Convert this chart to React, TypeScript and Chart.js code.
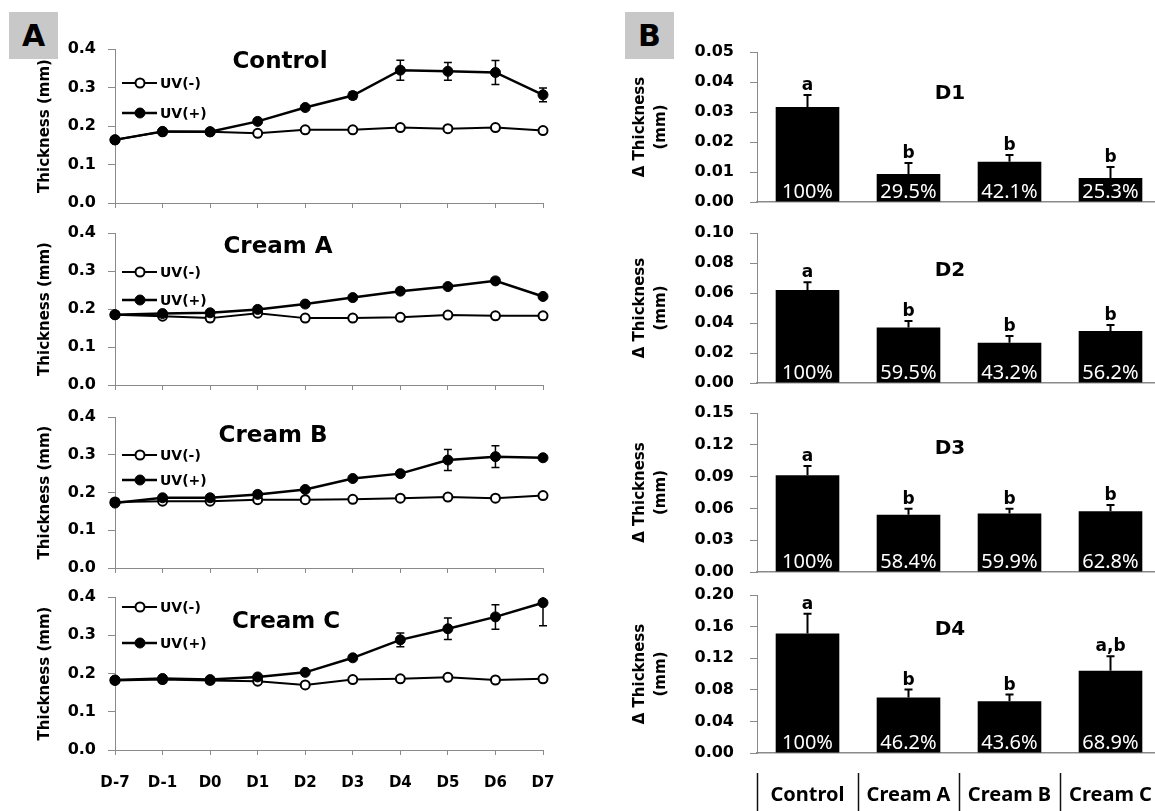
import React, { useEffect, useRef } from "react";
import { Chart, registerables } from "chart.js";

Chart.register(...registerables);

// ---------------- data ----------------
const days = ["D-7", "D-1", "D0", "D1", "D2", "D3", "D4", "D5", "D6", "D7"];
const uvLabels = ["UV(-)", "UV(+)"];
const thicknessTicks = [0, 0.1, 0.2, 0.3, 0.4];
const lineTitles = ["Control", "Cream A", "Cream B", "Cream C"];

const controlUvMinus = [0.164, 0.185, 0.185, 0.181, 0.19, 0.19, 0.196, 0.193, 0.196, 0.188];
const controlUvMinusErr = [0.003, 0.003, 0.003, 0.003, 0.003, 0.003, 0.003, 0.003, 0.003, 0.003];
const controlUvPlus = [0.164, 0.186, 0.185, 0.212, 0.248, 0.279, 0.345, 0.342, 0.339, 0.281];
const controlUvPlusErr = [0.003, 0.004, 0.004, 0.004, 0.005, 0.009, 0.026, 0.023, 0.031, 0.018];

const creamAUvMinus = [0.185, 0.181, 0.176, 0.189, 0.176, 0.176, 0.178, 0.184, 0.182, 0.182];
const creamAUvMinusErr = [0.003, 0.003, 0.003, 0.003, 0.003, 0.003, 0.003, 0.003, 0.003, 0.003];
const creamAUvPlus = [0.185, 0.188, 0.19, 0.199, 0.213, 0.23, 0.247, 0.259, 0.274, 0.233];
const creamAUvPlusErr = [0.003, 0.004, 0.004, 0.004, 0.004, 0.004, 0.004, 0.005, 0.006, 0.006];

const creamBUvMinus = [0.175, 0.177, 0.177, 0.181, 0.181, 0.182, 0.185, 0.188, 0.185, 0.192];
const creamBUvMinusErr = [0.003, 0.003, 0.003, 0.003, 0.003, 0.003, 0.003, 0.003, 0.003, 0.003];
const creamBUvPlus = [0.172, 0.186, 0.186, 0.195, 0.208, 0.237, 0.25, 0.286, 0.295, 0.292];
const creamBUvPlusErr = [0.004, 0.004, 0.004, 0.004, 0.004, 0.005, 0.005, 0.028, 0.029, 0.005];

const creamCUvMinus = [0.182, 0.184, 0.182, 0.18, 0.17, 0.184, 0.186, 0.19, 0.183, 0.186];
const creamCUvMinusErr = [0.003, 0.003, 0.003, 0.003, 0.003, 0.003, 0.003, 0.003, 0.003, 0.003];
const creamCUvPlus = [0.183, 0.187, 0.184, 0.191, 0.203, 0.241, 0.288, 0.317, 0.348, 0.385];
const creamCUvPlusErr = [0.003, 0.004, 0.004, 0.004, 0.004, 0.005, 0.018, 0.028, 0.032, 0.06];

const groups = ["Control", "Cream A", "Cream B", "Cream C"];
const barTitles = ["D1", "D2", "D3", "D4"];
const deltaAxisTitle = ["\u0394 Thickness", "(mm)"];

const d1Delta = [0.0317, 0.0093, 0.0134, 0.008];
const d1Err = [0.004, 0.0037, 0.0023, 0.0037];
const d1Percent = ["100%", "29.5%", "42.1%", "25.3%"];
const d1Letters = ["a", "b", "b", "b"];
const d1Ticks = [0, 0.01, 0.02, 0.03, 0.04, 0.05];

const d2Delta = [0.062, 0.037, 0.0268, 0.0346];
const d2Err = [0.0052, 0.0043, 0.0045, 0.004];
const d2Percent = ["100%", "59.5%", "43.2%", "56.2%"];
const d2Letters = ["a", "b", "b", "b"];
const d2Ticks = [0, 0.02, 0.04, 0.06, 0.08, 0.1];

const d3Delta = [0.0913, 0.054, 0.0553, 0.0572];
const d3Err = [0.0088, 0.0057, 0.0044, 0.006];
const d3Percent = ["100%", "58.4%", "59.9%", "62.8%"];
const d3Letters = ["a", "b", "b", "b"];
const d3Ticks = [0, 0.03, 0.06, 0.09, 0.12, 0.15];

const d4Delta = [0.1514, 0.0702, 0.0655, 0.104];
const d4Err = [0.025, 0.0101, 0.0085, 0.0186];
const d4Percent = ["100%", "46.2%", "43.6%", "68.9%"];
const d4Letters = ["a", "b", "b", "a,b"];
const d4Ticks = [0, 0.04, 0.08, 0.12, 0.16, 0.2];

const lineSeries = [
  { minus: controlUvMinus, minusErr: controlUvMinusErr, plus: controlUvPlus, plusErr: controlUvPlusErr },
  { minus: creamAUvMinus, minusErr: creamAUvMinusErr, plus: creamAUvPlus, plusErr: creamAUvPlusErr },
  { minus: creamBUvMinus, minusErr: creamBUvMinusErr, plus: creamBUvPlus, plusErr: creamBUvPlusErr },
  { minus: creamCUvMinus, minusErr: creamCUvMinusErr, plus: creamCUvPlus, plusErr: creamCUvPlusErr },
];
const barSeries = [
  { v: d1Delta, e: d1Err, pct: d1Percent, let: d1Letters, ticks: d1Ticks },
  { v: d2Delta, e: d2Err, pct: d2Percent, let: d2Letters, ticks: d2Ticks },
  { v: d3Delta, e: d3Err, pct: d3Percent, let: d3Letters, ticks: d3Ticks },
  { v: d4Delta, e: d4Err, pct: d4Percent, let: d4Letters, ticks: d4Ticks },
];

// ---------------- layout / style ----------------
const FONT = "'DejaVu Sans', sans-serif";
const PCT_FONT = "'Noto Sans', sans-serif";
const GRAY = "#8a8a8a";
const PAD_TOP = 15;

const lineLayout = [
  { top: 49, bottom: 203, titleX: 280, titleY: 62, legendY: [83, 113] },
  { top: 233, bottom: 385, titleX: 278, titleY: 247, legendY: [272, 300] },
  { top: 417, bottom: 568, titleX: 273, titleY: 436, legendY: [455, 480] },
  { top: 597, bottom: 750, titleX: 286, titleY: 622, legendY: [607, 643] },
];
const LINE_LEFT = 115;
const LINE_RIGHT = 543;
const LINE_W = 560;

const barLayout = [
  { top: 52, bottom: 202, titleY: 94 },
  { top: 233, bottom: 383, titleY: 271 },
  { top: 413, bottom: 572, titleY: 449 },
  { top: 595, bottom: 753, titleY: 630 },
];
const BAR_CANVAS_LEFT = 600;
const BAR_AXIS = 757;
const BAR_W = 561;
const BAR_TITLE_X = 950;
const TABLE_TOP = 773;

function lineGeom(i: number) {
  const L = lineLayout[i];
  const xh = i === 3 ? 811 - L.bottom : 10;
  const top = L.top - PAD_TOP;
  const height = PAD_TOP + (L.bottom - L.top) + xh;
  return { left: 0, top, width: LINE_W, height, xh };
}
function barGeom(i: number) {
  const L = barLayout[i];
  const xh = i === 3 ? 811 - L.bottom : 8;
  const top = L.top - PAD_TOP;
  const height = PAD_TOP + (L.bottom - L.top) + xh;
  return { left: BAR_CANVAS_LEFT, top, width: BAR_W, height, xh };
}

function fixX(h: number) {
  return (s: any) => {
    s.height = h;
    s.paddingLeft = 0;
    s.paddingRight = 0;
    s.paddingTop = 0;
    s.paddingBottom = 0;
  };
}
function fixY(w: number) {
  return (s: any) => {
    s.width = w;
    s.paddingTop = 0;
    s.paddingBottom = 0;
    s.paddingLeft = 0;
    s.paddingRight = 0;
  };
}

function lineConfig(i: number): any {
  const S = lineSeries[i];
  const L = lineLayout[i];
  const g = lineGeom(i);
  const extras = {
    id: "lineExtras" + i,
    beforeDatasetsDraw(chart: any) {
      const { ctx, chartArea } = chart;
      const y = chart.scales.y;
      ctx.save();
      ctx.beginPath();
      ctx.rect(chartArea.left - 10, chartArea.top, chartArea.right - chartArea.left + 20, chartArea.bottom - chartArea.top);
      ctx.clip();
      ctx.strokeStyle = "#000";
      ctx.lineWidth = 1.5;
      chart.data.datasets.forEach((ds: any, d: number) => {
        const meta = chart.getDatasetMeta(d);
        meta.data.forEach((pt: any, k: number) => {
          const v = ds.data[k];
          const e = ds.errors[k];
          const y1 = y.getPixelForValue(v + e);
          const y2 = y.getPixelForValue(v - e);
          ctx.beginPath();
          ctx.moveTo(pt.x, y1);
          ctx.lineTo(pt.x, y2);
          ctx.moveTo(pt.x - 4, y1);
          ctx.lineTo(pt.x + 4, y1);
          ctx.moveTo(pt.x - 4, y2);
          ctx.lineTo(pt.x + 4, y2);
          ctx.stroke();
        });
      });
      ctx.restore();
    },
    afterDatasetsDraw(chart: any) {
      const { ctx } = chart;
      ctx.save();
      ctx.fillStyle = "#000";
      ctx.font = `bold 23px ${FONT}`;
      ctx.textAlign = "center";
      ctx.textBaseline = "middle";
      ctx.fillText(lineTitles[i], L.titleX, L.titleY - g.top);
      uvLabels.forEach((lab, j) => {
        const ds = chart.data.datasets.find((d: any) => d.label === lab);
        const yy = L.legendY[j] - g.top;
        ctx.strokeStyle = "#000";
        ctx.lineWidth = ds.borderWidth;
        ctx.beginPath();
        ctx.moveTo(122, yy);
        ctx.lineTo(157, yy);
        ctx.stroke();
        ctx.beginPath();
        ctx.arc(140, yy, ds.pointRadius, 0, Math.PI * 2);
        ctx.fillStyle = ds.pointBackgroundColor;
        ctx.fill();
        ctx.lineWidth = ds.pointBorderWidth;
        ctx.stroke();
        ctx.fillStyle = "#000";
        ctx.font = `bold 14px ${FONT}`;
        ctx.textAlign = "left";
        ctx.textBaseline = "middle";
        ctx.fillText(lab, 160, yy + 1);
      });
      ctx.restore();
    },
  };
  return {
    type: "line",
    data: {
      labels: days,
      datasets: [
        {
          label: uvLabels[1],
          data: S.plus,
          errors: S.plusErr,
          order: 0,
          borderColor: "#000",
          borderWidth: 2.5,
          pointRadius: 5,
          pointBackgroundColor: "#000",
          pointBorderColor: "#000",
          pointBorderWidth: 1,
          tension: 0,
        },
        {
          label: uvLabels[0],
          data: S.minus,
          errors: S.minusErr,
          order: 1,
          borderColor: "#000",
          borderWidth: 2,
          pointRadius: 4.5,
          pointBackgroundColor: "#fff",
          pointBorderColor: "#000",
          pointBorderWidth: 2,
          tension: 0,
        },
      ],
    },
    options: {
      animation: false,
      responsive: false,
      maintainAspectRatio: false,
      events: [],
      layout: { padding: { top: PAD_TOP, left: 0, right: LINE_W - LINE_RIGHT, bottom: 0 } },
      plugins: { legend: { display: false }, tooltip: { enabled: false } },
      scales: {
        x: {
          type: "category",
          offset: false,
          afterFit: fixX(g.xh),
          grid: { drawOnChartArea: false, drawTicks: true, tickLength: 5, color: GRAY, lineWidth: 1 },
          border: { display: true, color: GRAY, width: 1 },
          ticks: {
            display: i === 3,
            autoSkip: false,
            maxRotation: 0,
            padding: 19,
            color: "#000",
            font: { family: FONT, size: 15, weight: "bold" },
          },
        },
        y: {
          type: "linear",
          min: thicknessTicks[0],
          max: thicknessTicks[thicknessTicks.length - 1],
          afterBuildTicks: (s: any) => {
            s.ticks = thicknessTicks.map((v) => ({ value: v }));
          },
          afterFit: fixY(LINE_LEFT),
          grid: { drawOnChartArea: false, drawTicks: true, tickLength: 7, color: GRAY, lineWidth: 1 },
          border: { display: true, color: GRAY, width: 1 },
          ticks: {
            padding: 12,
            color: "#000",
            font: { family: FONT, size: 16, weight: "bold" },
            callback: (v: any) => Number(v).toFixed(1),
          },
          title: {
            display: true,
            text: "Thickness (mm)",
            color: "#000",
            font: { family: FONT, size: 15, weight: "bold" },
            padding: { top: 36, bottom: 0 },
          },
        },
      },
    },
    plugins: [extras],
  };
}

function barConfig(i: number): any {
  const S = barSeries[i];
  const L = barLayout[i];
  const g = barGeom(i);
  const extras = {
    id: "barExtras" + i,
    afterDatasetsDraw(chart: any) {
      const { ctx, chartArea } = chart;
      const y = chart.scales.y;
      const ds = chart.data.datasets[0];
      const meta = chart.getDatasetMeta(0);
      ctx.save();
      meta.data.forEach((bar: any, k: number) => {
        const v = ds.data[k];
        const e = ds.errors[k];
        const yTop = y.getPixelForValue(v + e);
        ctx.strokeStyle = "#000";
        ctx.lineWidth = 2;
        ctx.beginPath();
        ctx.moveTo(bar.x, bar.y);
        ctx.lineTo(bar.x, yTop);
        ctx.moveTo(bar.x - 4, yTop);
        ctx.lineTo(bar.x + 4, yTop);
        ctx.stroke();
        ctx.fillStyle = "#000";
        ctx.font = `bold 17px ${FONT}`;
        ctx.textAlign = "center";
        ctx.textBaseline = "alphabetic";
        ctx.fillText(S.let[k], bar.x, yTop - 5);
        ctx.fillStyle = "#fff";
        ctx.font = `20px ${PCT_FONT}`;
        ctx.fillText(S.pct[k], bar.x, chartArea.bottom - 4);
      });
      ctx.fillStyle = "#000";
      ctx.font = `bold 20px ${FONT}`;
      ctx.textAlign = "center";
      ctx.textBaseline = "middle";
      ctx.fillText(barTitles[i], BAR_TITLE_X - g.left, L.titleY - g.top);
      ctx.restore();
    },
    afterDraw(chart: any) {
      if (i !== 3) return;
      const { ctx, chartArea } = chart;
      const meta = chart.getDatasetMeta(0);
      const cw = (chartArea.right - chartArea.left) / meta.data.length;
      ctx.save();
      ctx.strokeStyle = "#111";
      ctx.lineWidth = 1.5;
      meta.data.forEach((bar: any) => {
        const x = Math.round(bar.x - cw / 2) + 0.5;
        ctx.beginPath();
        ctx.moveTo(x, TABLE_TOP - g.top);
        ctx.lineTo(x, g.height);
        ctx.stroke();
      });
      ctx.restore();
    },
  };
  return {
    type: "bar",
    data: {
      labels: groups,
      datasets: [
        {
          label: deltaAxisTitle.join(" "),
          data: S.v,
          errors: S.e,
          backgroundColor: "#000",
          borderWidth: 0,
          barPercentage: 0.63,
          categoryPercentage: 1,
        },
      ],
    },
    options: {
      animation: false,
      responsive: false,
      maintainAspectRatio: false,
      events: [],
      layout: { padding: { top: PAD_TOP, left: 0, right: 0, bottom: 0 } },
      plugins: { legend: { display: false }, tooltip: { enabled: false } },
      scales: {
        x: {
          type: "category",
          afterFit: fixX(g.xh),
          grid: { display: false, drawTicks: false },
          border: { display: true, color: GRAY, width: 1.5 },
          ticks: {
            display: i === 3,
            autoSkip: false,
            maxRotation: 0,
            padding: 30,
            color: "#000",
            font: { family: PCT_FONT, size: 20, weight: "bold" },
          },
        },
        y: {
          type: "linear",
          min: S.ticks[0],
          max: S.ticks[S.ticks.length - 1],
          afterBuildTicks: (s: any) => {
            s.ticks = S.ticks.map((v) => ({ value: v }));
          },
          afterFit: fixY(BAR_AXIS - BAR_CANVAS_LEFT),
          grid: { drawOnChartArea: false, drawTicks: true, tickLength: 7, color: GRAY, lineWidth: 1 },
          border: { display: true, color: GRAY, width: 1 },
          ticks: {
            padding: 16,
            color: "#000",
            font: { family: FONT, size: 16, weight: "bold" },
            callback: (v: any) => Number(v).toFixed(2),
          },
          title: {
            display: true,
            text: deltaAxisTitle,
            color: "#000",
            font: { family: FONT, size: 15, weight: "bold", lineHeight: 1.4 },
            padding: { top: 30, bottom: 0 },
          },
        },
      },
    },
    plugins: [extras],
  };
}

function ChartCanvas({ geom, build }: { geom: any; build: () => any }) {
  const ref = useRef<HTMLCanvasElement | null>(null);
  useEffect(() => {
    if (!ref.current) return;
    const chart = new Chart(ref.current, build());
    return () => chart.destroy();
  }, []);
  return (
    <canvas
      ref={ref}
      width={geom.width}
      height={geom.height}
      style={{ position: "absolute", left: geom.left, top: geom.top, width: geom.width, height: geom.height }}
    />
  );
}

const boxStyle: React.CSSProperties = {
  position: "absolute",
  top: 12,
  height: 47,
  background: "#c8c8c8",
  fontFamily: FONT,
  fontWeight: "bold",
  fontSize: 30,
  lineHeight: "47px",
  textAlign: "center",
  color: "#000",
};

export default function App() {
  return (
    <div
      style={{
        position: "fixed",
        left: 0,
        top: 0,
        width: 1155,
        height: 811,
        overflow: "hidden",
        background: "#fff",
      }}
    >
      <div style={{ ...boxStyle, left: 9, width: 49 }}>A</div>
      <div style={{ ...boxStyle, left: 625, width: 49 }}>B</div>
      {[0, 1, 2, 3].map((i) => (
        <ChartCanvas key={"l" + i} geom={lineGeom(i)} build={() => lineConfig(i)} />
      ))}
      {[0, 1, 2, 3].map((i) => (
        <ChartCanvas key={"b" + i} geom={barGeom(i)} build={() => barConfig(i)} />
      ))}
    </div>
  );
}
